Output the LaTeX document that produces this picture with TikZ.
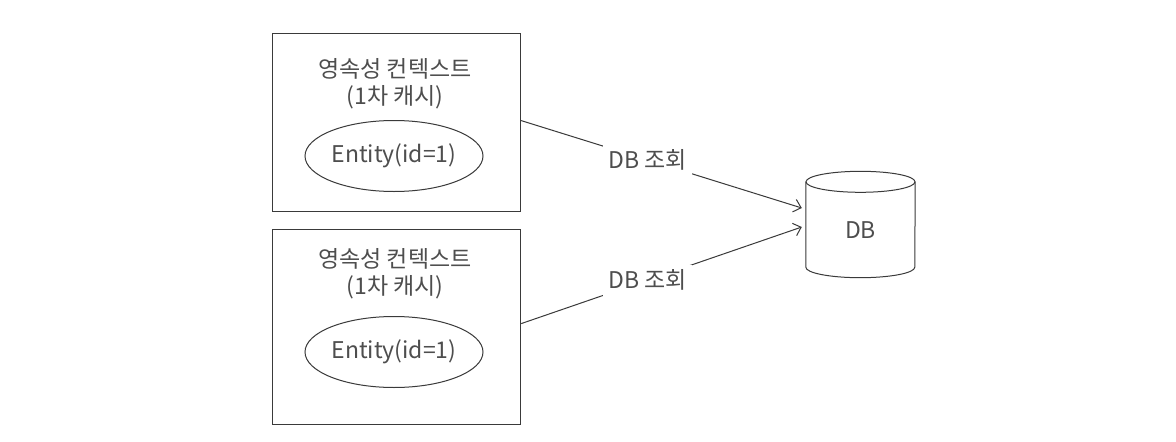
\documentclass[tikz,border=0pt]{standalone}
\usepackage{fontspec}
\setmainfont{Noto Sans CJK KR}
\usetikzlibrary{arrows.meta,calc,shapes.geometric}
\definecolor{ln}{HTML}{3A3A3A}
\definecolor{tx}{HTML}{4E4E4E}
\begin{document}
\begin{tikzpicture}[x=1pt,y=-1pt,
  ctxbox/.style={draw=ln,line width=1.2pt,minimum width=248pt,anchor=north west,inner sep=0pt},
  ent/.style={draw=ln,line width=1pt,ellipse,minimum width=178pt,minimum height=71pt,inner sep=0pt,text=tx,font=\fontsize{23}{27}\selectfont},
  ttl/.style={text=tx,align=center,font=\fontsize{23}{27}\selectfont},
  conn/.style={draw=ln,line width=1pt,-{Straight Barb[length=7pt,width=13pt,line width=1pt]}},
  lbl/.style={fill=white,text=tx,font=\fontsize{23}{27}\selectfont,inner sep=5pt}]
\useasboundingbox[fill=white] (0,0) rectangle (1176,442);
\node[ctxbox,minimum height=178pt] (top) at (272,33) {};
\node[ctxbox,minimum height=195pt] (bot) at (272,229) {};
\node[ttl] (t1) at (395,83.5) {영속성 컨텍스트\\(1차 캐시)};
\node[ttl] (t2) at (395,274) {영속성 컨텍스트\\(1차 캐시)};
\node[ent] (e1) at (394,156) {Entity(id=1)};
\node[ent] (e2) at (394,352) {Entity(id=1)};
% DB cylinder
\node[minimum width=109pt,minimum height=85pt,inner sep=0pt] (db) at (860.5,224.5) {};
\node[text=tx,font=\fontsize{23}{27}\selectfont] (dbl) at (860.5,230) {DB};
\draw[ln,line width=1pt] (db.north west) -- (db.south west)
  arc[start angle=180,end angle=360,x radius=54.5pt,y radius=10.5pt]
  -- (db.north east);
\draw[ln,line width=1pt] (db.north) ellipse[x radius=54.5pt,y radius=10.5pt];
\coordinate (a1) at ($(db.west)+(-4,-16.5)$);
\coordinate (a2) at ($(db.west)+(-4,2.5)$);
\draw[conn] ($(top.east)+(0,-2)$) -- node[lbl,pos=0.45] (l1) {DB 조회} (a1);
\draw[conn] ($(bot.east)+(0,-3.5)$) -- node[lbl,pos=0.45] (l2) {DB 조회} (a2);
\end{tikzpicture}
\end{document}
